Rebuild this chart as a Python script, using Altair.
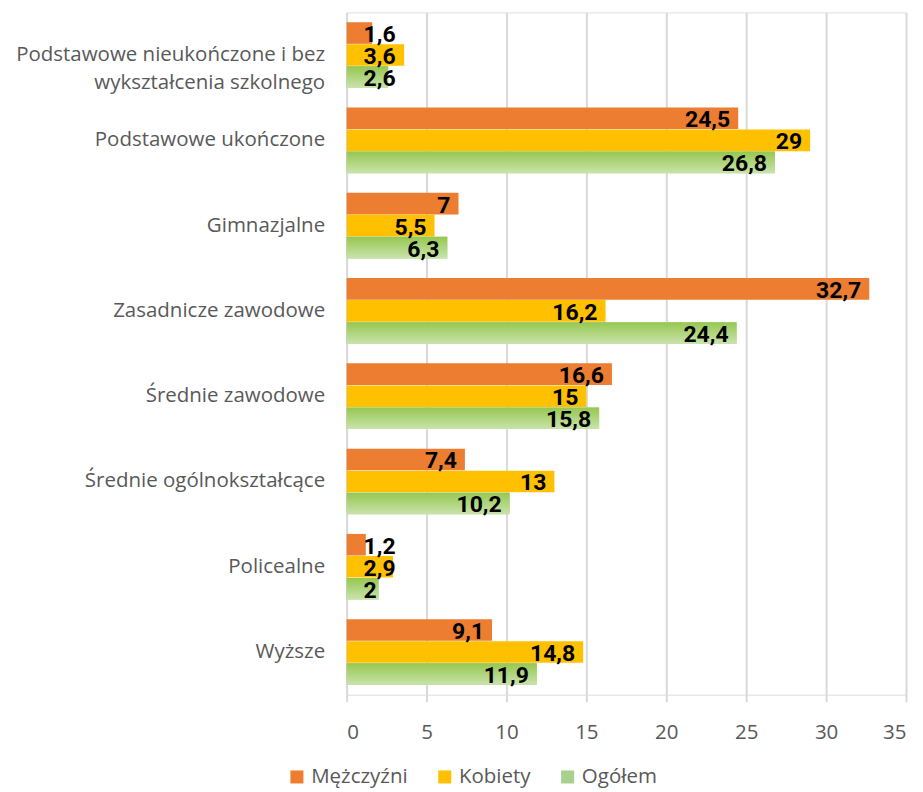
import altair as alt
import pandas as pd

categories = [
    "Podstawowe nieukończone  i bez|wykształcenia szkolnego",
    "Podstawowe ukończone",
    "Gimnazjalne",
    "Zasadnicze zawodowe",
    "Średnie zawodowe",
    "Średnie ogólnokształcące",
    "Policealne",
    "Wyższe",
]
series = ["Mężczyźni", "Kobiety", "Ogółem"]
men = [1.6, 24.5, 7, 32.7, 16.6, 7.4, 1.2, 9.1]
women = [3.6, 29, 5.5, 16.2, 15, 13, 2.9, 14.8]
total = [2.6, 26.8, 6.3, 24.4, 15.8, 10.2, 2, 11.9]
colors = ["#ED7D31", "#FFC000", "#A9D18E"]

rows = []
for s, vals in zip(series, [men, women, total]):
    for c, v in zip(categories, vals):
        rows.append({"cat": c, "series": s, "v": v})
df = pd.DataFrame(rows)

FONT = "Open Sans"
FS = 20.5
GREY = "#595959"

base = alt.Chart(df).transform_calculate(
    lab="replace(toString(datum.v), '.', ',')"
)

y_enc = alt.Y("cat:N", sort=categories, title=None,
              scale=alt.Scale(paddingInner=0.23, paddingOuter=0.115),
              axis=alt.Axis(labelExpr="split(datum.label, '|')", domain=False, ticks=False,
                            labelPadding=22, labelFontSize=FS, labelColor=GREY,
                            labelFont=FONT, labelLineHeight=28, labelLimit=500))
yoff = alt.YOffset("series:N", sort=series, scale=alt.Scale(domain=series, paddingInner=0.02))
x_enc = alt.X("v:Q", title=None, scale=alt.Scale(domain=[0, 35], nice=False),
              axis=alt.Axis(values=[0, 5, 10, 15, 20, 25, 30, 35], domain=False,
                            tickColor="#D9D9D9", tickSize=7, tickWidth=2,
                            gridColor="#D9D9D9", gridWidth=2,
                            labelFontSize=FS, labelColor=GREY, labelFont=FONT,
                            labelPadding=21))

bars = base.mark_bar().encode(
    x=x_enc, y=y_enc, yOffset=yoff,
    color=alt.Color("series:N", sort=series,
                    scale=alt.Scale(domain=series, range=colors),
                    legend=alt.Legend(title=None, orient="none", direction="horizontal",
                                      legendX=-60, legendY=755,
                                      symbolType="square", symbolSize=170, symbolStrokeWidth=0,
                                      labelFontSize=FS, labelColor=GREY, labelFont=FONT,
                                      columnPadding=26, labelOffset=4)),
)

grad = base.transform_filter("datum.series == 'Ogółem'").mark_bar(
    fill=alt.Gradient(gradient="linear", x1=0, x2=0, y1=0, y2=1,
                      stops=[alt.GradientStop(color="#96C750", offset=0),
                             alt.GradientStop(color="#C9E3AC", offset=1)])
).encode(x="v:Q", y=alt.Y("cat:N", sort=categories), yOffset=yoff)

txt_big = base.transform_filter("datum.v >= 4").mark_text(
    align="right", baseline="middle", dx=-8, dy=2, font="Roboto", fontWeight="bold",
    fontSize=23, color="black"
).encode(x="v:Q", y=alt.Y("cat:N", sort=categories), yOffset=yoff, text="lab:N")

txt_small = base.transform_filter("datum.v < 4").transform_calculate(
    x0="0"
).mark_text(
    align="left", baseline="middle", dx=17, dy=2, font="Roboto", fontWeight="bold",
    fontSize=23, color="black"
).encode(x="x0:Q", y=alt.Y("cat:N", sort=categories), yOffset=yoff, text="lab:N")

chart = alt.layer(bars, grad, txt_big, txt_small).properties(
    width=560, height=683, padding={"left": 2, "top": 4, "right": 8, "bottom": 2}
).configure_view(stroke=None).configure(background="white")

chart.save("out.html", embed_options={"renderer": "svg", "actions": False})
